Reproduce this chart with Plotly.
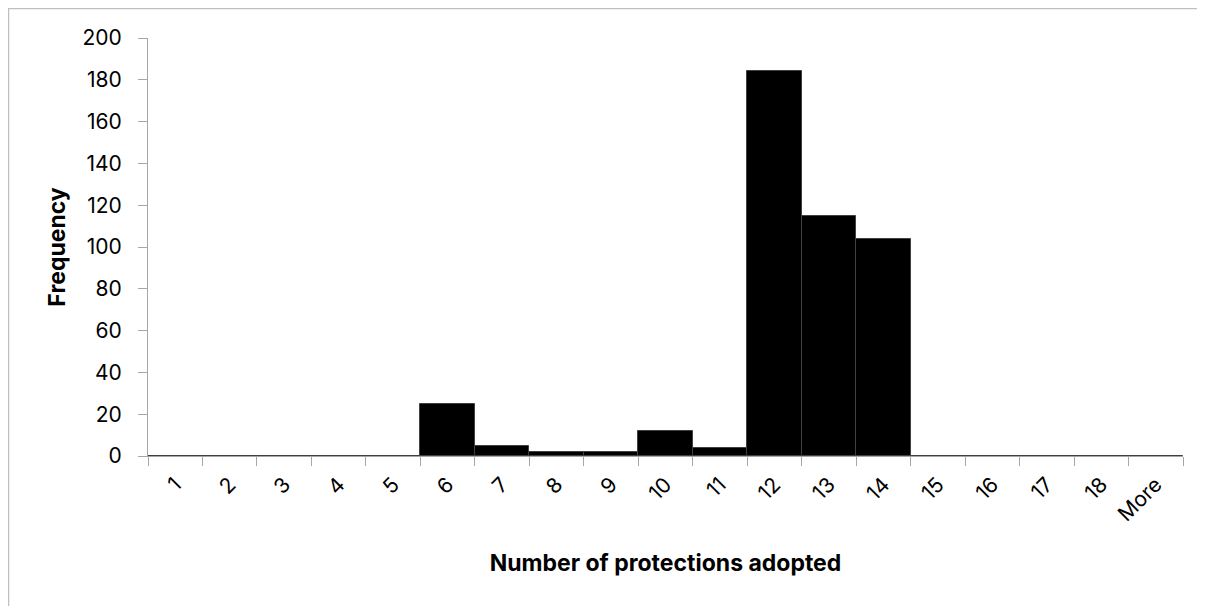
import plotly.graph_objects as go

categories = ["1", "2", "3", "4", "5", "6", "7", "8", "9", "10", "11", "12",
              "13", "14", "15", "16", "17", "18", "More"]
frequency = [0, 0, 0, 0, 0, 25, 5, 2, 2, 12, 4, 184, 115, 104, 0, 0, 0, 0, 0]
y_ticks = [0, 20, 40, 60, 80, 100, 120, 140, 160, 180, 200]

W, H = 1205, 606
L, R, T, B = 140, 30, 30, 158
pw, ph = W - L - R, H - T - B

fig = go.Figure(go.Bar(
    x=categories, y=frequency,
    marker=dict(color="black", line=dict(color="#404040", width=1)),
))

font = "Inter, Liberation Sans, Arial, sans-serif"
axis_col = "#a6a6a6"

fig.update_layout(
    width=W, height=H,
    margin=dict(l=L, r=R, t=T, b=B, autoexpand=False),
    paper_bgcolor="white", plot_bgcolor="white",
    bargap=0,
    showlegend=False,
    font=dict(family=font, size=21, color="black"),
    xaxis=dict(
        type="category", range=[-0.5, len(categories) - 0.5],
        tickangle=-45, tickson="boundaries",
        ticks="outside", ticklen=9, tickcolor=axis_col, tickwidth=1,
        showline=True, linecolor=axis_col, linewidth=1,
        showgrid=False, zeroline=False,
        tickfont=dict(size=21),
        ticklabelstandoff=7,
        title=dict(text="<b>Number of protections adopted</b>",
                   font=dict(size=23), standoff=29),
    ),
    yaxis=dict(
        range=[0, 200], tickvals=y_ticks,
        ticks="outside", ticklen=9, tickcolor=axis_col, tickwidth=1,
        showline=True, linecolor=axis_col, linewidth=1,
        showgrid=False, zeroline=False,
        tickfont=dict(size=21),
        ticklabelstandoff=12,
        title=dict(text="<b>Frequency</b>", font=dict(size=23), standoff=10),
    ),
)

fig.add_shape(
    type="rect", xref="paper", yref="paper",
    x0=(-L + 0.5) / pw, x1=(W + 10 - L) / pw,
    y0=-(B + 10) / ph, y1=(ph + T - 0.5) / ph,
    line=dict(color="#bfbfbf", width=1.5), fillcolor="rgba(0,0,0,0)",
    layer="below",
)

fig.write_html("out.html")
